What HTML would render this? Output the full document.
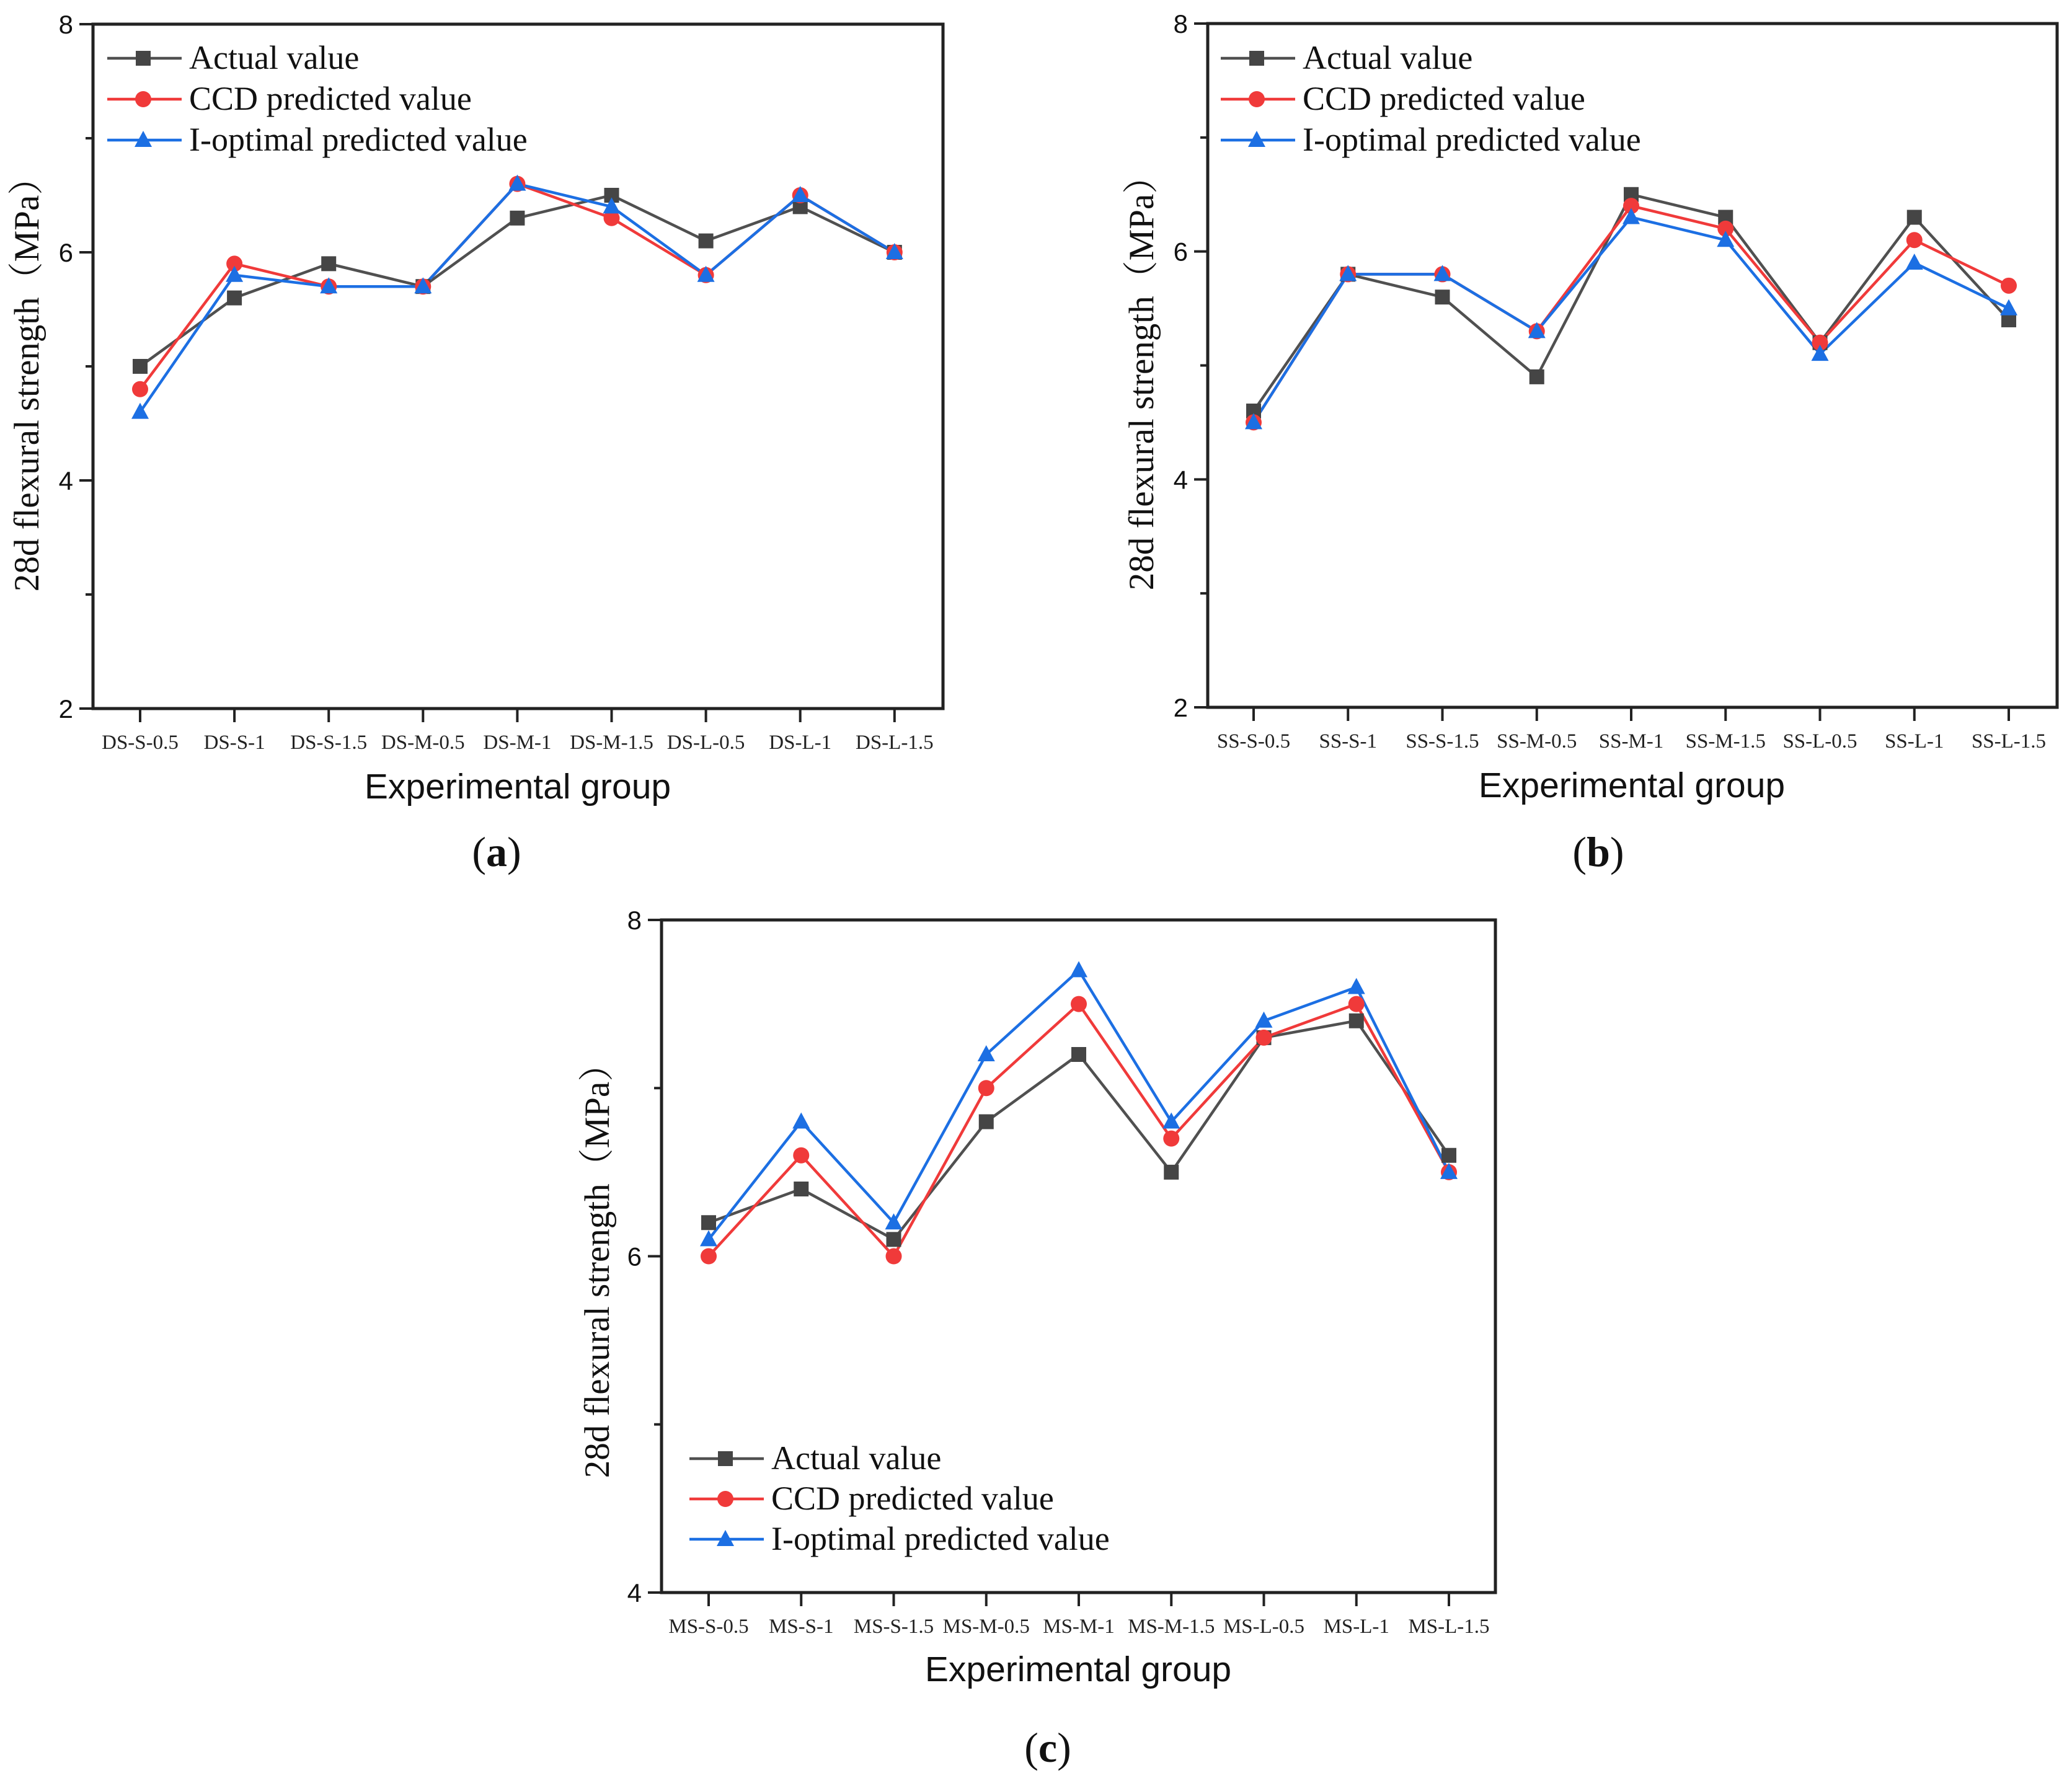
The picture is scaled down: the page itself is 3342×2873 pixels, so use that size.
<!DOCTYPE html>
<html><head><meta charset="utf-8">
<style>
html,body{margin:0;padding:0;background:#fff;}
svg{display:block;}
</style></head>
<body>
<svg id="fig" width="3342" height="2873" viewBox="0 0 3342 2873" xmlns="http://www.w3.org/2000/svg"></svg>
<script>
const catsA = ["DS-S-0.5","DS-S-1","DS-S-1.5","DS-M-0.5","DS-M-1","DS-M-1.5","DS-L-0.5","DS-L-1","DS-L-1.5"];
const catsB = ["SS-S-0.5","SS-S-1","SS-S-1.5","SS-M-0.5","SS-M-1","SS-M-1.5","SS-L-0.5","SS-L-1","SS-L-1.5"];
const catsC = ["MS-S-0.5","MS-S-1","MS-S-1.5","MS-M-0.5","MS-M-1","MS-M-1.5","MS-L-0.5","MS-L-1","MS-L-1.5"];
const actualA = [5.0,5.6,5.9,5.7,6.3,6.5,6.1,6.4,6.0];
const ccdA    = [4.8,5.9,5.7,5.7,6.6,6.3,5.8,6.5,6.0];
const ioptA   = [4.6,5.8,5.7,5.7,6.6,6.4,5.8,6.5,6.0];
const actualB = [4.6,5.8,5.6,4.9,6.5,6.3,5.2,6.3,5.4];
const ccdB    = [4.5,5.8,5.8,5.3,6.4,6.2,5.2,6.1,5.7];
const ioptB   = [4.5,5.8,5.8,5.3,6.3,6.1,5.1,5.9,5.5];
const actualC = [6.2,6.4,6.1,6.8,7.2,6.5,7.3,7.4,6.6];
const ccdC    = [6.0,6.6,6.0,7.0,7.5,6.7,7.3,7.5,6.5];
const ioptC   = [6.1,6.8,6.2,7.2,7.7,6.8,7.4,7.6,6.5];
const ticksAB = [2,4,6,8];
const ticksC = [4,6,8];
const seriesNames = ["Actual value","CCD predicted value","I-optimal predicted value"];

const NS="http://www.w3.org/2000/svg";
const svg=document.getElementById('fig');
function mk(tag,attrs,parent,name,text){
  const e=document.createElementNS(NS,tag);
  for(const k in attrs) e.setAttribute(k,attrs[k]);
  
  
  if(text!==undefined) e.textContent=text;
  (parent||svg).appendChild(e);
  return e;
}
const COLORS=["#505050","#f03a3a","#1c6fe3"];
const MCOL=["#454545","#f03a3a","#1c6fe3"];

function marker(g,k,x,y,name){
  if(k===0) mk('rect',{x:x-12,y:y-12,width:24,height:24,fill:MCOL[0]},g,name);
  else if(k===1) mk('circle',{cx:x,cy:y,r:13,fill:MCOL[1]},g,name);
  else mk('polygon',{points:`${x},${y-15} ${x-14},${y+11} ${x+14},${y+11}`,fill:MCOL[2]},g,name);
}

function panel(p){
  const g=mk('g',{},svg,'panel-'+p.id);
  const ys=v=>p.bottom-(v-p.ymin)/(p.ymax-p.ymin)*(p.bottom-p.top);
  const xs=i=>p.x0+i*p.dx;
  mk('rect',{x:p.left,y:p.top,width:p.right-p.left,height:p.bottom-p.top,fill:'none',stroke:'#222','stroke-width':5},g,'plot-frame');
  for(let v=p.ymin; v<=p.ymax+1e-9; v+=1){
    const y=ys(v);
    const major=p.ticks.indexOf(v)>=0;
    mk('line',{x1:p.left-(major?22:12),x2:p.left,y1:y,y2:y,stroke:'#222','stroke-width':4},g,'y-tick');
  }
  p.ticks.forEach(v=>{
    mk('text',{x:p.left-32,y:ys(v)+15,'text-anchor':'end','font-family':'Liberation Sans, sans-serif','font-size':42,fill:'#111'},g,'y-tick-label',String(v));
  });
  p.cats.forEach((c,i)=>{
    mk('line',{x1:xs(i),x2:xs(i),y1:p.bottom,y2:p.bottom+22,stroke:'#222','stroke-width':4},g,'x-tick');
    mk('text',{x:xs(i),y:p.bottom+65,'text-anchor':'middle','font-family':'Liberation Serif, serif','font-size':33,fill:'#222'},g,'x-tick-label',c);
  });
  p.series.forEach((s,k)=>{
    const pts=s.map((v,i)=>xs(i)+','+ys(v)).join(' ');
    mk('polyline',{points:pts,fill:'none',stroke:COLORS[k],'stroke-width':4.5},g,'series-line-'+k);
  });
  p.series.forEach((s,k)=>{
    s.forEach((v,i)=>marker(g,k,xs(i),ys(v),'point-'+k+'-'+i));
  });
  seriesNames.forEach((n,k)=>{
    const y=p.legY+k*p.legDy;
    mk('line',{x1:p.legX,x2:p.legX+120,y1:y,y2:y,stroke:COLORS[k],'stroke-width':4.5},g,'legend-line');
    marker(g,k,p.legX+58,y,'legend-marker');
    mk('text',{x:p.legX+132,y:y+17,'font-family':'Liberation Serif, serif','font-size':54,fill:'#111'},g,'legend-entry',n);
  });
  mk('text',{x:p.ytx,y:p.yty,'text-anchor':'middle','font-family':'Liberation Serif, \"Noto Serif CJK SC\", serif','font-size':57,fill:'#111',transform:`rotate(-90 ${p.ytx} ${p.yty})`},g,'y-axis-title','28d flexural strength（MPa）');
  mk('text',{x:p.xtx,y:p.xty,'text-anchor':'middle','font-family':'Liberation Sans, sans-serif','font-size':57,fill:'#111'},g,'x-axis-title','Experimental group');
  const lb=mk('text',{x:p.lbx,y:p.lby,'text-anchor':'middle','font-family':'Liberation Serif, serif','font-size':68,fill:'#111'},g,'panel-label','('+p.id+')');
  lb.innerHTML='(<tspan font-weight="bold">'+p.id+'</tspan>)';
}

panel({id:'a',left:150,right:1521,top:39,bottom:1143,ymin:2,ymax:8,ticks:ticksAB,cats:catsA,x0:226,dx:152.1,
  series:[actualA,ccdA,ioptA],legX:173,legY:94,legDy:66,ytx:62,yty:606,xtx:835,xty:1288,lbx:801,lby:1397});
panel({id:'b',left:1948,right:3318,top:38,bottom:1141,ymin:2,ymax:8,ticks:ticksAB,cats:catsB,x0:2022,dx:152.25,
  series:[actualB,ccdB,ioptB],legX:1969,legY:94,legDy:66,ytx:1860,yty:604,xtx:2632,xty:1286,lbx:2578,lby:1397});
panel({id:'c',left:1067,right:2412,top:1484,bottom:2569,ymin:4,ymax:8,ticks:ticksC,cats:catsC,x0:1143,dx:149.25,
  series:[actualC,ccdC,ioptC],legX:1112,legY:2353,legDy:65,ytx:982,yty:2036,xtx:1739,xty:2712,lbx:1690,lby:2842});
</script>
</body></html>
